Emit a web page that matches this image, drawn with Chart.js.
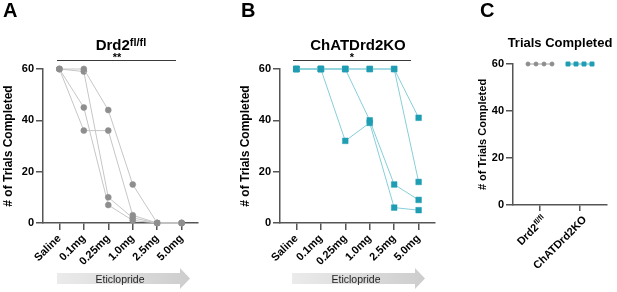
<!DOCTYPE html>
<html>
<head>
<meta charset="utf-8">
<script src="https://cdn.jsdelivr.net/npm/chart.js@4.4.0/dist/chart.umd.min.js"></script>
<style>
body { margin: 0; width: 617px; height: 292px; background: #fff; position: relative; overflow: hidden; font-family: 'Liberation Sans', Arial, sans-serif; }
canvas { position: absolute; top: 0; }
.txt { position: absolute; white-space: nowrap; text-align: center; color: #000; }
.letter { font-size: 20px; font-weight: bold; line-height: 20px; top: 0; }
.title { font-size: 15px; font-weight: bold; line-height: 15px; top: 37px; }
.title sup { font-size: 11px; vertical-align: 4px; line-height: 0; }
.sig { position: absolute; top: 60px; height: 0; border-top: 1.5px solid #3a3a3a; }
.star { font-size: 11px; font-weight: bold; line-height: 11px; top: 52px; }
.arrow { position: absolute; top: 268px; height: 21px; background: linear-gradient(to right, #ebebeb, #cdcdcd);
  clip-path: polygon(0 5px, calc(100% - 10px) 5px, calc(100% - 10px) 0, 100% 50%, calc(100% - 10px) 100%, calc(100% - 10px) 16px, 0 16px); }
.drug { font-size: 10.5px; line-height: 11px; top: 274px; color: #222; }
</style>
</head>
<body>
<canvas id="chartA" width="205" height="292" style="left:0"></canvas>
<canvas id="chartB" width="205" height="292" style="left:237px"></canvas>
<canvas id="chartC" width="147" height="292" style="left:470px"></canvas>

<div class="txt letter" style="left:3px">A</div>
<div class="txt letter" style="left:241px">B</div>
<div class="txt letter" style="left:480px">C</div>

<div class="txt title" style="left:71px;width:100px">Drd2<sup>fl/fl</sup></div>
<div class="txt title" style="left:308px;width:100px">ChATDrd2KO</div>
<div class="txt title" style="left:500px;width:120px;font-size:13px;line-height:13px;top:36px">Trials Completed</div>

<div class="sig" style="left:57px;width:119px"></div>
<div class="txt star" style="left:107px;width:20px">**</div>
<div class="sig" style="left:293px;width:118px"></div>
<div class="txt star" style="left:342px;width:20px">*</div>

<div class="arrow" style="left:57px;width:133px"></div>
<div class="txt drug" style="left:90px;width:60px">Eticlopride</div>
<div class="arrow" style="left:292px;width:133px"></div>
<div class="txt drug" style="left:326px;width:60px">Eticlopride</div>

<script>
const doses = ['Saline', '0.1mg', '0.25mg', '1.0mg', '2.5mg', '5.0mg'];
const yTicks = [0, 20, 40, 60];

// Drd2 fl/fl mice, trials completed per dose
const flox1 = [60, 60, 44, 15, 0, 0];
const flox2 = [60, 59, 10, 2, 0, 0];
const flox3 = [60, 45, 7, 1, 0, 0];
const flox4 = [60, 36, 36, 3, 0, 0];

// ChATDrd2KO mice
const ko1 = [60, 60, 60, 60, 60, 41];
const ko2 = [60, 60, 60, 60, 60, 16];
const ko3 = [60, 60, 32, 39, 6, 5];
const ko4 = [60, 60, 60, 40, 15, 9];

// panel C: trials completed without drug
const groupNames = ['Drd2', 'ChATDrd2KO'];
const groupSup = ['fl/fl', ''];
const floxTrials = [60, 60, 60, 60];
const koTrials = [60, 60, 60, 60];
const jitter = [-0.3, -0.1, 0.1, 0.3];

const fam = "'Liberation Sans', Arial, sans-serif";
const axisColor = '#555';
const gray = '#8e8e8e', grayLine = '#c6c6c6';
const teal = '#1f9db3', tealLine = '#86cfd9';

function yScale(titleSize, tickSize, padTop) {
    return {
        min: 0, max: 60,
        afterBuildTicks: s => { s.ticks = yTicks.map(v => ({ value: v })); },
        afterFit: s => { s.width = 43; },
        border: { color: axisColor, width: 1.5 },
        grid: { drawOnChartArea: false, tickLength: 7, color: axisColor, lineWidth: 1.5 },
        ticks: { padding: 2, color: '#000', font: { family: fam, size: tickSize, weight: 'bold' } },
        title: { display: true, text: '# of Trials Completed', color: '#000',
                 font: { family: fam, size: titleSize, weight: 'bold' }, padding: { top: padTop, bottom: 0 } }
    };
}

function dosePanel(id, series, style, radius, fill, line) {
    new Chart(document.getElementById(id), {
        type: 'line',
        data: {
            datasets: series.map(vals => ({
                data: vals.map((v, i) => ({ x: i, y: v })),
                borderColor: line,
                borderWidth: 1,
                pointStyle: style,
                pointRadius: radius,
                pointBackgroundColor: fill,
                pointBorderColor: fill,
                pointBorderWidth: 0.5,
                clip: false
            }))
        },
        options: {
            responsive: false,
            animation: false,
            devicePixelRatio: 1,
            layout: { padding: { top: 69, right: 7, bottom: 19, left: 0 }, autoPadding: false },
            plugins: { legend: { display: false }, tooltip: { enabled: false } },
            scales: {
                x: {
                    type: 'linear', min: -0.67, max: 5.67,
                    afterBuildTicks: s => { s.ticks = doses.map((d, i) => ({ value: i })); },
                    afterFit: s => { s.height = 50; },
                    border: { color: axisColor, width: 1.5 },
                    grid: { drawOnChartArea: false, tickLength: 7, color: axisColor, lineWidth: 1.5 },
                    ticks: {
                        autoSkip: false, maxRotation: 45, minRotation: 45, padding: 2, color: '#000',
                        font: { family: fam, size: 11, weight: 'bold' },
                        callback: v => doses[v]
                    }
                },
                y: yScale(12, 11, 1)
            }
        }
    });
}

dosePanel('chartA', [flox1, flox2, flox3, flox4], 'circle', 3, gray, grayLine);
dosePanel('chartB', [ko1, ko2, ko3, ko4], 'rect', 4, teal, tealLine);

// rotated group labels with superscript
const supLabels = {
    id: 'supLabels',
    afterDraw(chart) {
        const ctx = chart.ctx, sx = chart.scales.x;
        ctx.save();
        ctx.fillStyle = '#000';
        ctx.textBaseline = 'middle';
        groupNames.forEach((name, i) => {
            const px = sx.getPixelForValue(i);
            ctx.save();
            ctx.translate(px + 5, sx.top + 13);
            ctx.rotate(-Math.PI / 4);
            ctx.textAlign = 'right';
            let end = 0;
            if (groupSup[i]) {
                ctx.font = 'bold 7.5px ' + fam;
                ctx.fillText(groupSup[i], 0, -3);
                end = -ctx.measureText(groupSup[i]).width;
            }
            ctx.font = 'bold 11px ' + fam;
            ctx.fillText(name, end, 0);
            ctx.restore();
        });
        ctx.restore();
    }
};

new Chart(document.getElementById('chartC'), {
    type: 'line',
    data: {
        datasets: [
            { data: floxTrials.map((v, k) => ({ x: 0 + jitter[k], y: v })), borderColor: '#a8a8a8', borderWidth: 1,
              pointStyle: 'circle', pointRadius: 2, pointBackgroundColor: gray, pointBorderColor: gray, clip: false },
            { data: koTrials.map((v, k) => ({ x: 1 + jitter[k], y: v })), borderColor: '#4fb6c6', borderWidth: 1,
              pointStyle: 'rect', pointRadius: 2.8, pointBackgroundColor: teal, pointBorderColor: teal, clip: false }
        ]
    },
    options: {
        responsive: false,
        animation: false,
        devicePixelRatio: 1,
        layout: { padding: { top: 64, right: 10, bottom: 17, left: 0 }, autoPadding: false },
        plugins: { legend: { display: false }, tooltip: { enabled: false } },
        scales: {
            x: {
                type: 'linear', min: -0.675, max: 1.675,
                afterBuildTicks: s => { s.ticks = groupNames.map((g, i) => ({ value: i })); },
                afterFit: s => { s.height = 70; },
                border: { color: axisColor, width: 1.5 },
                grid: { drawOnChartArea: false, tickLength: 6, color: axisColor, lineWidth: 1.5 },
                ticks: { display: false }
            },
            y: yScale(11, 11, 6)
        }
    },
    plugins: [supLabels]
});
</script>
</body>
</html>
